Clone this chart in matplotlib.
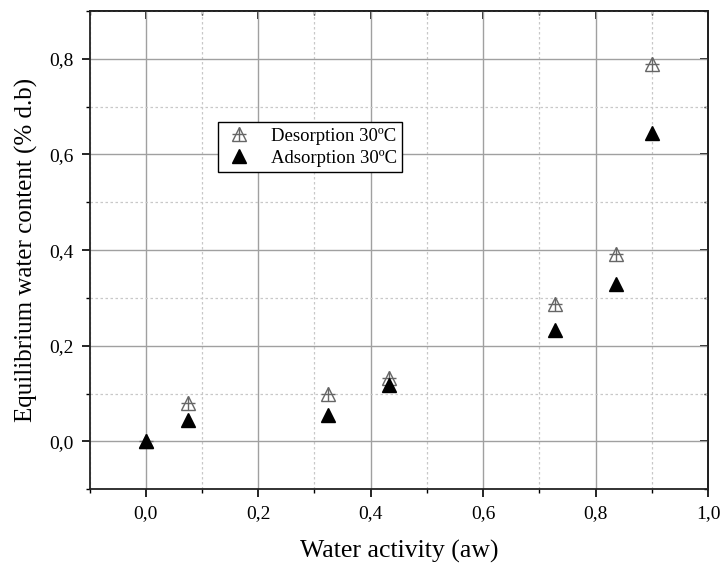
import matplotlib.pyplot as plt
from matplotlib.ticker import MultipleLocator, FuncFormatter
from matplotlib.lines import Line2D
from matplotlib.legend_handler import HandlerTuple

# sorption isotherm at 30 C
aw = [0.0, 0.075, 0.325, 0.432, 0.728, 0.836, 0.900]
desorption = [0.0, 0.080, 0.100, 0.133, 0.288, 0.392, 0.790]
adsorption = [0.0, 0.045, 0.056, 0.117, 0.232, 0.330, 0.644]

plt.rcParams['font.family'] = ['Liberation Serif', 'DejaVu Serif']

fig = plt.figure(figsize=(7.26, 5.68), dpi=100)
ax = fig.add_axes([0.1233, 0.1386, 0.8519, 0.842])

# desorption: open triangle with a cross inside
ax.plot(aw, desorption, ls='none', marker='^', ms=10, mfc='white',
        mec='#666666', mew=1.0, zorder=3)
ax.plot(aw, desorption, ls='none', marker='+', ms=10,
        mec='#666666', mew=1.0, zorder=3)
ax.plot(aw, adsorption, ls='none', marker='^', ms=10, color='black', zorder=4)

ax.set_xlim(-0.1, 1.0)
ax.set_ylim(-0.1, 0.9)

ax.xaxis.set_major_locator(MultipleLocator(0.2))
ax.xaxis.set_minor_locator(MultipleLocator(0.1))
ax.yaxis.set_major_locator(MultipleLocator(0.2))
ax.yaxis.set_minor_locator(MultipleLocator(0.1))

comma = FuncFormatter(lambda v, p: ('%.1f' % v).replace('.', ','))
ax.xaxis.set_major_formatter(comma)
ax.yaxis.set_major_formatter(comma)

ax.grid(which='major', color='#a0a0a0', lw=1.0, ls='-')
ax.grid(which='minor', color='#c8c8c8', lw=0.9, ls=(0, (2, 2)))
ax.set_axisbelow(True)

ax.tick_params(which='major', direction='out', length=6, width=1.2,
               labelsize=14, colors='black', pad=5.5)
ax.tick_params(which='minor', direction='out', length=3, width=1.0)
for s in ax.spines.values():
    s.set_linewidth(1.3)
    s.set_color('#222222')

# mirrored ticks on top and right, pointing in
top = ax.secondary_xaxis('top')
top.xaxis.set_major_locator(MultipleLocator(0.2))
top.xaxis.set_minor_locator(MultipleLocator(0.1))
top.tick_params(which='major', direction='in', length=6, width=1.2, labeltop=False)
top.tick_params(which='minor', direction='in', length=3, width=1.0)
right = ax.secondary_yaxis('right')
right.yaxis.set_major_locator(MultipleLocator(0.2))
right.yaxis.set_minor_locator(MultipleLocator(0.1))
right.tick_params(which='major', direction='in', length=6, width=1.2, labelright=False)
right.tick_params(which='minor', direction='in', length=3, width=1.0)
for s in list(top.spines.values()) + list(right.spines.values()):
    s.set_linewidth(1.3)

ax.set_xlabel('Water activity (aw)', fontsize=18.5, labelpad=13)
ax.set_ylabel('Equilibrium water content (% d.b)', fontsize=18, labelpad=8)

h_des = (Line2D([], [], ls='none', marker='^', ms=10, mfc='white', mec='#666666', mew=1.0),
         Line2D([], [], ls='none', marker='+', ms=10, mec='#666666', mew=1.0))
h_ads = Line2D([], [], ls='none', marker='^', ms=10, color='black')
leg = ax.legend([h_des, h_ads], ['Desorption 30ºC', 'Adsorption 30ºC'],
                handler_map={tuple: HandlerTuple(ndivide=1, pad=0)},
                loc='upper left', bbox_to_anchor=(0.208, 0.768),
                fontsize=13.5, fancybox=False, framealpha=1,
                edgecolor='black', borderpad=0.3, handlelength=1.6,
                handletextpad=0.9, labelspacing=0.25, borderaxespad=0)
leg.get_frame().set_linewidth(1.0)

fig.savefig('out.png', dpi=100)
